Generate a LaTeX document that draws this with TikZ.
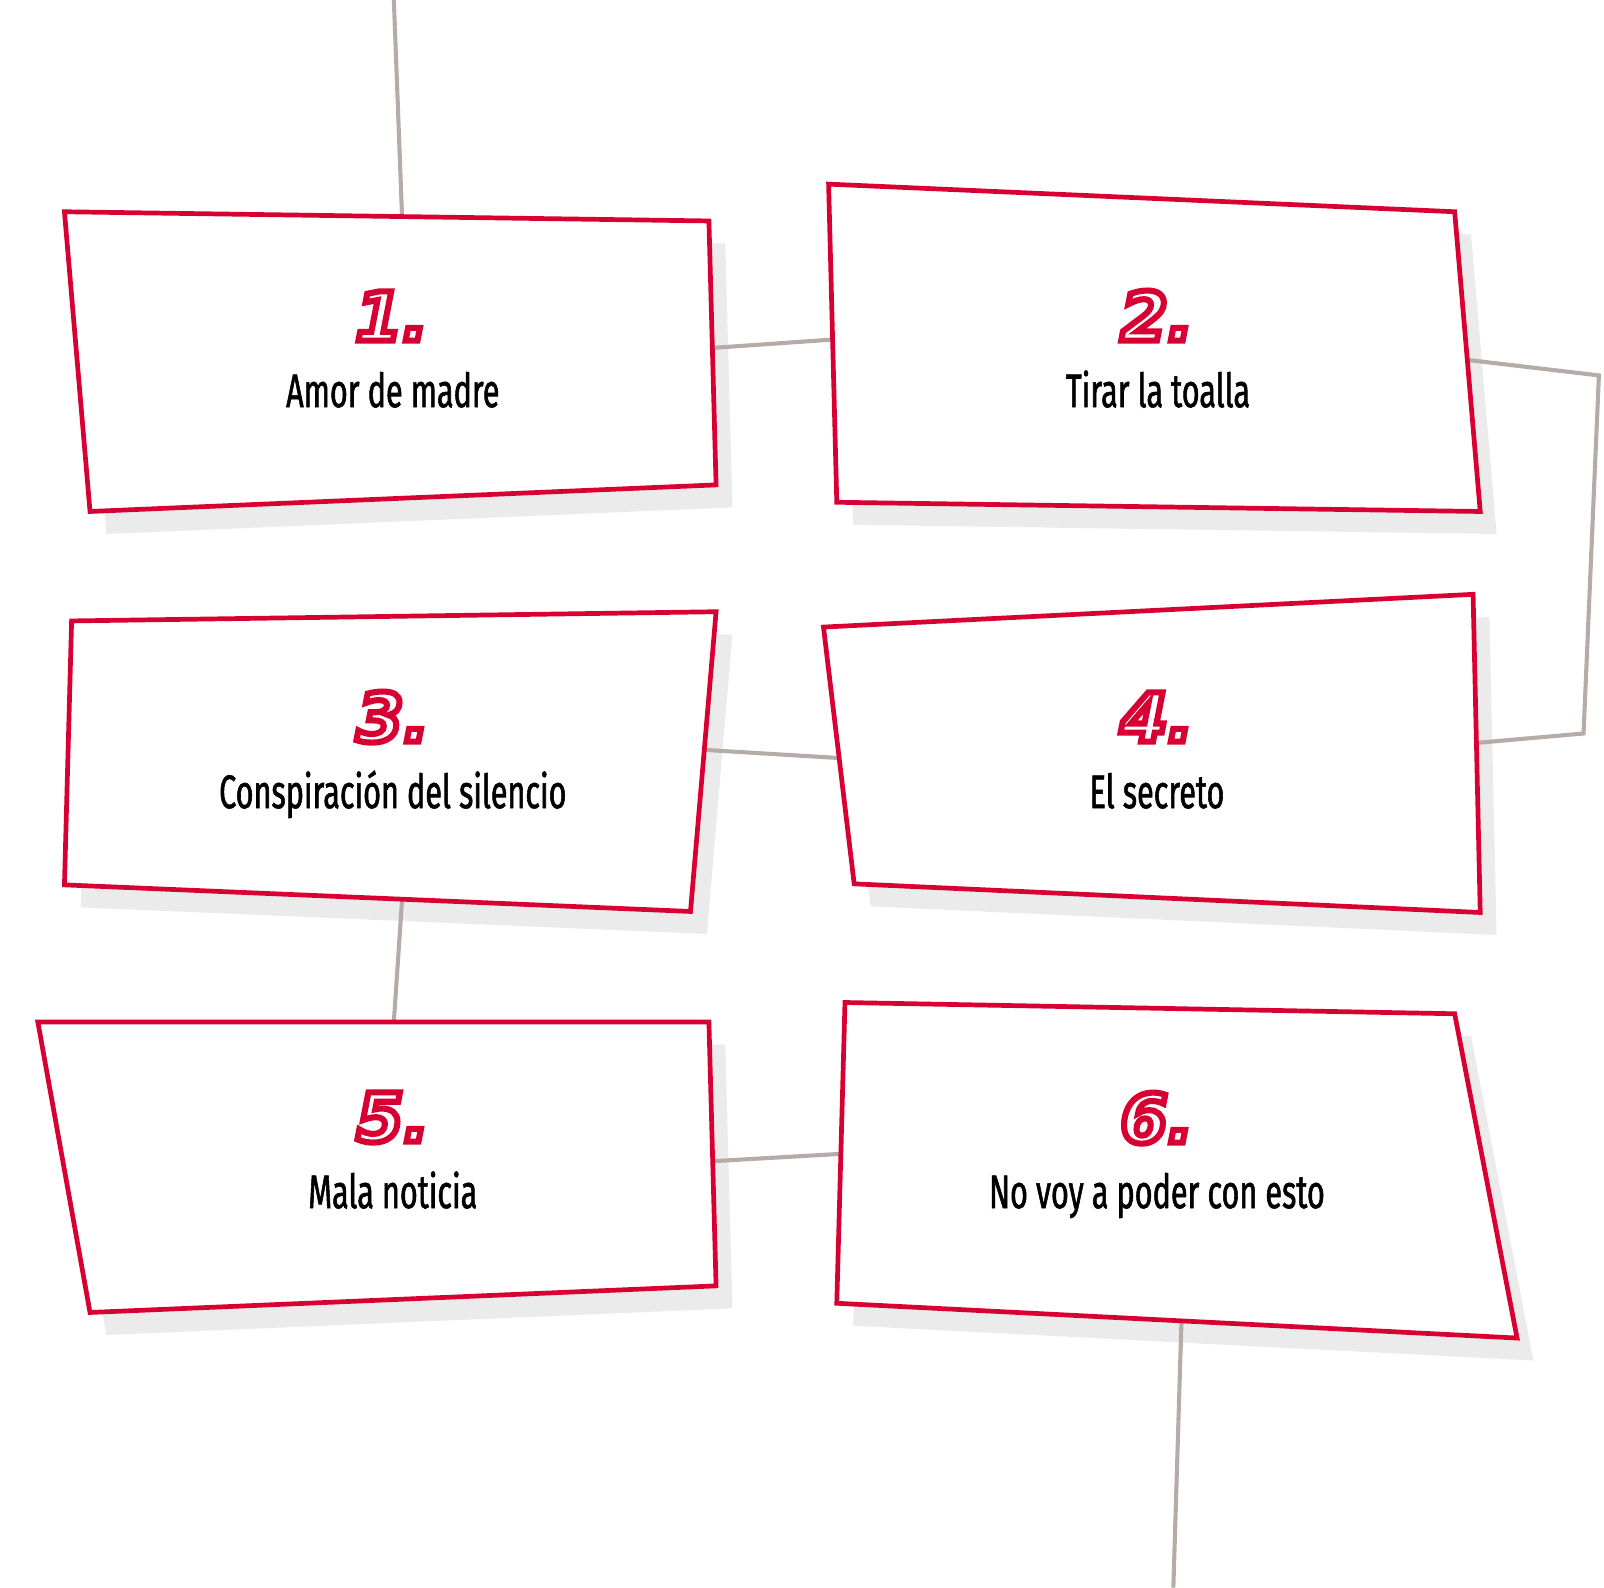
\documentclass[tikz,border=0pt]{standalone}
\usepackage{fontspec}
\setmainfont[FakeStretch=0.65,FakeBold=1.2]{Fira Sans}
\newfontfamily\numfont[FakeBold=9]{DejaVu Sans}
\usetikzlibrary{calc}
\definecolor{boxred}{RGB}{216,0,50}
\definecolor{linegray}{RGB}{181,172,168}
\definecolor{shadowgray}{RGB}{235,235,235}
\newcommand\numtext[1]{{\color{white}\special{pdf:code 0.847 0 0.196 RG}#1}}
\tikzset{
  cardbox/.style={draw=boxred, line width=2.3pt, fill=white, line join=miter},
  cardshadow/.style={fill=shadowgray},
  conn/.style={draw=linegray, line width=2pt},
  boxtext/.style={font=\fontsize{23}{28}\selectfont, text=black, anchor=base, inner sep=0pt},
  boxnum/.style={font=\numfont\bfseries\itshape\fontsize{33}{36}\selectfont, anchor=base, inner sep=0pt},
}
\begin{document}
\begin{tikzpicture}[x=0.5pt,y=-0.5pt]
\useasboundingbox (0,0) rectangle (1568,1552);
% box corners
\coordinate (b1a) at (63,207);   \coordinate (b1b) at (693,216);  \coordinate (b1c) at (700,474);  \coordinate (b1d) at (88,500);
\coordinate (b2a) at (810,180);  \coordinate (b2b) at (1422,207); \coordinate (b2c) at (1447,500); \coordinate (b2d) at (818,491);
\coordinate (b3a) at (70,607);   \coordinate (b3b) at (700,598);  \coordinate (b3c) at (675,891);  \coordinate (b3d) at (63,865);
\coordinate (b4a) at (805,613);  \coordinate (b4b) at (1440,581); \coordinate (b4c) at (1447,892); \coordinate (b4d) at (835,864);
\coordinate (b5a) at (37,999);   \coordinate (b5b) at (693,999);  \coordinate (b5c) at (700,1257); \coordinate (b5d) at (88,1283);
\coordinate (b6a) at (826,980);  \coordinate (b6b) at (1422,991); \coordinate (b6c) at (1483,1308);\coordinate (b6d) at (818,1274);
% shadows
\foreach \b in {b1,b2,b3,b4,b5,b6}{
  \fill[cardshadow] ([shift={(16,22)}]\b a) -- ([shift={(16,22)}]\b b) -- ([shift={(16,22)}]\b c) -- ([shift={(16,22)}]\b d) -- cycle;
}
% connector end points
\coordinate (top) at (385,0);
\coordinate (c1t) at (393,211);
\coordinate (c1r) at (698,340);
\coordinate (c2l) at (813,332);
\coordinate (c2r) at (1436,352);
\coordinate (k1) at (1563,367);
\coordinate (k2) at (1548,717);
\coordinate (c4r) at (1446,726);
\coordinate (c3r) at (688,733);
\coordinate (c4l) at (820,741);
\coordinate (c3b) at (393,880);
\coordinate (c5t) at (385,999);
\coordinate (c5r) at (699,1135);
\coordinate (c6l) at (821,1128);
\coordinate (c6b) at (1155,1290);
\coordinate (bot) at (1147,1552);
\draw[conn] (top) -- (c1t);
\draw[conn] (c1r) -- (c2l);
\draw[conn] (c2r) -- (k1) -- (k2) -- (c4r);
\draw[conn] (c3r) -- (c4l);
\draw[conn] (c3b) -- (c5t);
\draw[conn] (c5r) -- (c6l);
\draw[conn] (c6b) -- (bot);
% boxes
\foreach \b in {b1,b2,b3,b4,b5,b6}{
  \draw[cardbox] (\b a) -- (\b b) -- (\b c) -- (\b d) -- cycle;
}
% texts
\node[boxnum] (n1) at (383,333) {\numtext{1.}};
\node[boxtext] (t1) at (384,398) {Amor de madre};
\node[boxnum] (n2) at (1131,333) {\numtext{2.}};
\node[boxtext] (t2) at (1132,398) {Tirar la toalla};
\node[boxnum] (n3) at (384,725) {\numtext{3.}};
\node[boxtext] (t3) at (384,790) {Conspiración del silencio};
\node[boxnum] (n4) at (1131,725) {\numtext{4.}};
\node[boxtext] (t4) at (1131,790) {El secreto};
\node[boxnum] (n5) at (384,1116) {\numtext{5.}};
\node[boxtext] (t5) at (384,1181) {Mala noticia};
\node[boxnum] (n6) at (1131,1117) {\numtext{6.}};
\node[boxtext] (t6) at (1131,1181) {No voy a poder con esto};
\end{tikzpicture}
\end{document}
